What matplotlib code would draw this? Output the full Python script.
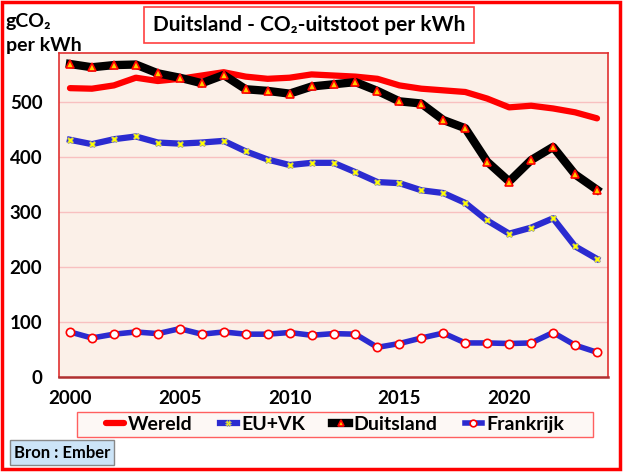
import numpy as np
import matplotlib.pyplot as plt
from matplotlib.patches import Rectangle

years = list(range(2000, 2025))
wereld = [526, 525, 531, 545, 539, 543, 549, 555, 547, 543, 545, 551, 549, 547, 543,
          531, 525, 522, 519, 507, 491, 494, 489, 482, 471]
eu_vk = [432, 424, 433, 438, 427, 425, 427, 430, 411, 396, 386, 390, 390, 373, 355,
         353, 340, 335, 317, 285, 261, 272, 289, 238, 215]
duitsland = [570, 564, 568, 569, 553, 545, 535, 550, 524, 521, 516, 529, 533, 537, 521,
             502, 498, 468, 453, 392, 356, 395, 419, 369, 341]
frankrijk = [82, 71, 78, 82, 79, 88, 78, 82, 78, 78, 81, 76, 79, 78, 54,
             61, 71, 80, 62, 62, 61, 62, 81, 58, 45]

font = ['Lato', 'DejaVu Sans']
plt.rcParams['font.family'] = font
plt.rcParams['font.weight'] = 'bold'

W, H = 624, 472
fig = plt.figure(figsize=(W / 100, H / 100), dpi=100)
ax = fig.add_axes([59 / W, 1 - 377 / H, (608 - 59) / W, (377 - 53) / H])
ax.set_facecolor('#fbf0e8')

ax.plot(years, wereld, color='#ff0000', lw=4.5, solid_capstyle='round',
        solid_joinstyle='round', label='Wereld', zorder=3)
ax.plot(years, eu_vk, color='#2b2bd0', lw=4.5, solid_joinstyle='round',
        marker='X', ms=5, mfc='#ffff00', mec='#999999', mew=0.5,
        label='EU+VK', zorder=4)
ax.plot(years, duitsland, color='black', lw=6, solid_joinstyle='round',
        marker='^', ms=6, mfc='#ffcc00', mec='#ff0000', mew=1.2,
        label='Duitsland', zorder=5)
ax.plot(years, frankrijk, color='#2b2bd0', lw=4, solid_joinstyle='round',
        marker='o', ms=6, mfc='white', mec='#ff0000', mew=1.2,
        label='Frankrijk', zorder=4)

ax.set_xlim(1999.5, 2024.5)
ax.set_ylim(0, 590)
ax.set_xticks([2000, 2005, 2010, 2015, 2020])
ax.set_yticks([0, 100, 200, 300, 400, 500])
ax.tick_params(length=0, labelsize=13.5)
ax.tick_params(axis='x', pad=9)
ax.tick_params(axis='y', pad=12)
for lab in ax.get_xticklabels() + ax.get_yticklabels():
    lab.set_fontweight('bold')
ax.grid(axis='y', color='#f8c0c0', lw=1)
ax.set_axisbelow(True)
for s in ax.spines.values():
    s.set_color('#e03030')
    s.set_linewidth(1.2)
ax.spines['bottom'].set_color('#b03030')
ax.spines['bottom'].set_linewidth(1.8)

# legend box drawn separately so it can be wider than the entries
fig.patches.append(Rectangle((77 / W, 1 - 437 / H), (593 - 77) / W, 25 / H,
                             transform=fig.transFigure, fc='#fdf8f5', ec='#ff6060',
                             lw=1, zorder=1))
leg = fig.legend(loc='center', bbox_to_anchor=(335 / W, 1 - 424.5 / H), ncol=4,
                 fontsize=14, handlelength=0.9, handletextpad=0.2, numpoints=1,
                 columnspacing=1.4, frameon=False, borderpad=0.1, markerscale=0.8)
for t in leg.get_texts():
    t.set_fontweight('bold')

fig.text(309 / W, 1 - 25 / H, 'Duitsland - CO\u2082-uitstoot per kWh', ha='center',
         va='center', fontsize=15, fontweight='bold',
         bbox=dict(boxstyle='square,pad=0.4', fc='white', ec='#ff4040', lw=1.2))
fig.text(6 / W, 1 - 34 / H, 'gCO\u2082\nper kWh', ha='left', va='center', fontsize=14,
         fontweight='bold', linespacing=1.5)
fig.text(62 / W, 1 - 452.5 / H, 'Bron : Ember', ha='center', va='center', fontsize=12,
         fontweight='bold',
         bbox=dict(boxstyle='square,pad=0.25', fc='#cce4f7', ec='#888888', lw=1))

fig.patches.append(Rectangle((1.5 / W, 3.5 / H), 618 / W, 467 / H,
                             transform=fig.transFigure, fill=False, ec='#ff0000', lw=2.5))

fig.savefig('out.png', dpi=100)
